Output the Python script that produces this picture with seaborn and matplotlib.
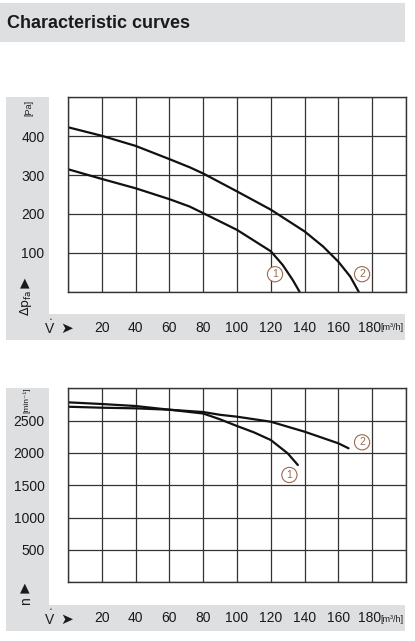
import numpy as np
import pandas as pd
import matplotlib
matplotlib.use("Agg")
import matplotlib.pyplot as plt
import matplotlib.transforms as mtransforms
from matplotlib.patches import Rectangle
import seaborn as sns

# pressure curves (flow in m3/h, pressure in Pa)
flow_p1 = [0, 20, 40, 60, 72, 80, 100, 112, 120, 127, 133, 137]
pres_p1 = [315, 290, 266, 238, 219, 202, 159, 126, 104, 69, 30, 0]
flow_p2 = [0, 20, 40, 60, 72, 80, 100, 120, 140, 151, 160, 167, 172]
pres_p2 = [423, 401, 375, 341, 320, 304, 258, 211, 155, 116, 77, 39, 0]

# speed curves (flow in m3/h, speed in 1/min)
flow_n1 = [0, 20, 40, 60, 80, 90, 100, 110, 120, 130, 136]
rpm_n1 = [2783, 2757, 2726, 2669, 2610, 2520, 2417, 2319, 2200, 1994, 1814]
flow_n2 = [0, 20, 40, 60, 80, 90, 100, 120, 140, 160, 166]
rpm_n2 = [2715, 2700, 2690, 2669, 2633, 2590, 2561, 2483, 2329, 2149, 2072]

x_ticks = list(range(0, 201, 20))
x_labels = [''] + [str(v) for v in range(20, 181, 20)] + ['']
p_ticks = list(range(0, 501, 100))
p_labels = ['', '100', '200', '300', '400', '']
n_ticks = list(range(0, 3001, 500))
n_labels = ['', '500', '1000', '1500', '2000', '2500', '']

# curve number markers
p_marks = [("1", 122.5, 45), ("2", 174, 45)]
n_marks = [("1", 131, 1660), ("2", 174, 2165)]

sns.set_style("white")
plt.rcParams['font.family'] = ['Liberation Sans', 'DejaVu Sans']

W, H = 415, 641
fig = plt.figure(figsize=(W / 100, H / 100), dpi=100)

GRAY = '#dedfe1'
BROWN = '#9a6a52'
GRID = '#333333'
INK = '#1a1a1a'


def rect(x0, y0, x1, y1, color):
    # pixel coords, y from top
    fig.add_artist(Rectangle((x0 / W, 1 - y1 / H), (x1 - x0) / W, (y1 - y0) / H,
                             transform=fig.transFigure, color=color, lw=0, zorder=0))


def ftext(x, y, s, **kw):
    kw.setdefault('color', INK)
    fig.text(x / W, 1 - y / H, s, **kw)


# title bar
rect(0, 3, 405, 42, GRAY)
ftext(7, 23, "Characteristic curves", fontsize=13, fontweight='bold',
      va='center', ha='left')

# gray label strips
rect(6, 97, 49, 314, GRAY)
rect(6, 314, 405, 340, GRAY)
rect(6, 388, 49, 605, GRAY)
rect(6, 605, 405, 631, GRAY)


def make_axes(top, bottom):
    return fig.add_axes([68 / W, 1 - bottom / H, 338 / W, (bottom - top) / H])


def style_axes(ax, yticks, ylabels, ylim, label_y):
    ax.set_xlim(0, 200)
    ax.set_ylim(*ylim)
    ax.set_xticks(x_ticks)
    ax.set_xticklabels(x_labels)
    ax.set_yticks(yticks)
    ax.set_yticklabels(ylabels)
    ax.set_xlabel('')
    ax.set_ylabel('')
    ax.set_facecolor('none')
    ax.grid(True, color=GRID, lw=0.9)
    ax.tick_params(axis='both', length=0, labelsize=10, colors=INK)
    ax.tick_params(axis='x', pad=21)
    ax.tick_params(axis='y', pad=17)
    for sp in ax.spines.values():
        sp.set_color(GRID)
        sp.set_linewidth(1.0)
    # shift the 180 label left to make room for the unit
    lab = ax.get_xticklabels()[-2]
    lab.set_transform(lab.get_transform() + mtransforms.ScaledTranslation(
        -3 / 100, 0, fig.dpi_scale_trans))
    ftext(380, label_y, '[m³/h]', fontsize=6.5, ha='left', va='center')
    # flow symbol
    ftext(50, label_y + 1, 'V', fontsize=10, ha='center', va='center')
    ftext(50.5, label_y - 9, '•', fontsize=3.5, ha='center', va='center')
    ftext(67, label_y, '➤', fontsize=11, ha='center', va='center',
          family=['DejaVu Sans'])


def add_marks(ax, marks):
    for t, x, y in marks:
        ax.text(x, y, t, fontsize=7.5, color=BROWN, ha='center', va='center',
                bbox=dict(boxstyle='circle,pad=0.25', fc='white', ec=BROWN, lw=0.8))


# top chart: pressure
ax1 = make_axes(97.3, 291.7)
df_p = pd.concat([
    pd.DataFrame({'flow': flow_p1, 'value': pres_p1, 'curve': '1'}),
    pd.DataFrame({'flow': flow_p2, 'value': pres_p2, 'curve': '2'}),
])
sns.lineplot(data=df_p, x='flow', y='value', hue='curve', units='curve',
             estimator=None, palette=['#111111', '#111111'], lw=1.6,
             legend=False, sort=False, ax=ax1)
style_axes(ax1, p_ticks, p_labels, (0, 500), 328)
add_marks(ax1, p_marks)

# bottom chart: speed
ax2 = make_axes(388.3, 582.3)
df_n = pd.concat([
    pd.DataFrame({'flow': flow_n1, 'value': rpm_n1, 'curve': '1'}),
    pd.DataFrame({'flow': flow_n2, 'value': rpm_n2, 'curve': '2'}),
])
sns.lineplot(data=df_n, x='flow', y='value', hue='curve', units='curve',
             estimator=None, palette=['#111111', '#111111'], lw=1.6,
             legend=False, sort=False, ax=ax2)
style_axes(ax2, n_ticks, n_labels, (0, 3000), 619)
add_marks(ax2, n_marks)

# y axis symbols
ftext(29, 108, '[Pa]', fontsize=6.5, rotation=90, ha='center', va='center')
ftext(25, 283, '▲', fontsize=9, ha='center', va='center', family=['DejaVu Sans'])
ftext(26, 303, r'$\Delta\mathrm{p}_{\mathrm{fa}}$', fontsize=9, rotation=90,
      ha='center', va='center')

ftext(27, 400, '[min⁻¹]', fontsize=6, rotation=90, ha='center', va='center',
      family=['Liberation Sans', 'DejaVu Sans'])
ftext(25, 588, '▲', fontsize=9, ha='center', va='center', family=['DejaVu Sans'])
ftext(26, 601, 'n', fontsize=10, rotation=90, ha='center', va='center')

fig.savefig('out.png', dpi=100, facecolor='white')
